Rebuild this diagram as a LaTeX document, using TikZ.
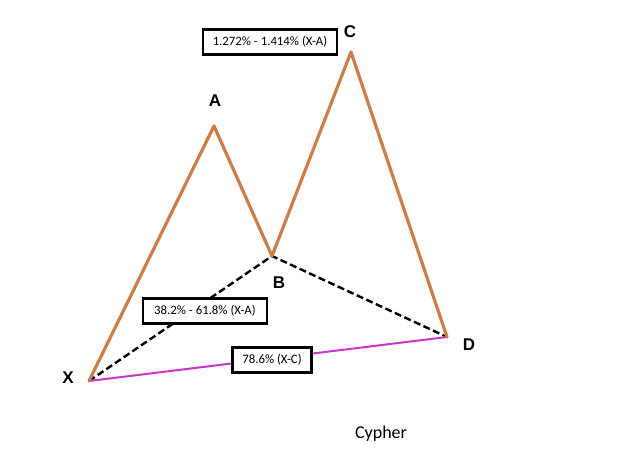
\documentclass[tikz,border=0pt]{standalone}
\usepackage{fontspec}
\setmainfont{Carlito}
\newfontfamily\ptfont{Liberation Sans}
\usetikzlibrary{calc}

\definecolor{legorange}{RGB}{206,124,72}
\definecolor{ratiomag}{RGB}{204,51,204}

\begin{document}
\begin{tikzpicture}[x=1pt, y=-1pt,
    leg/.style={legorange, line width=3.2pt, line join=round, line cap=round},
    retrace/.style={black, line width=2.4pt, dash pattern=on 7pt off 3.5pt},
    ratio/.style={draw, line width=2.2pt, fill=white, inner sep=0pt, minimum height=25pt, font=\fontsize{12.8}{14}\selectfont},
    ptlabel/.style={font=\ptfont\bfseries\fontsize{17}{19}\selectfont}]
    \useasboundingbox (0,0) rectangle (625,469);

    \coordinate (X) at (89,381);
    \coordinate (A) at (214,126);
    \coordinate (B) at (272,256);
    \coordinate (C) at (351,52);
    \coordinate (D) at (447,337);

    \draw[retrace] (X) -- (B) -- (D);
    \draw[ratiomag, line width=2pt] (X) -- (D);
    \draw[leg] (X) -- (A) -- (B) -- (C) -- (D);

    \node[ratio, minimum width=134pt] (xa) at (270,42) {1.272\% - 1.414\% (X-A)};
    \node[ratio, minimum width=124pt] (ab) at (205,311) {38.2\% - 61.8\% (X-A)};
    \node[ratio, minimum width=79pt] (xc) at (272,360) {78.6\% (X-C)};

    \node[ptlabel] (lX) at (68,378) {X};
    \node[ptlabel] (lA) at (215,101) {A};
    \node[ptlabel] (lB) at (279,283) {B};
    \node[ptlabel] (lC) at (350,32) {C};
    \node[ptlabel] (lD) at (469,345) {D};

    \node[font=\fontsize{18}{20}\selectfont] (name) at (381,434) {Cypher};
\end{tikzpicture}
\end{document}
